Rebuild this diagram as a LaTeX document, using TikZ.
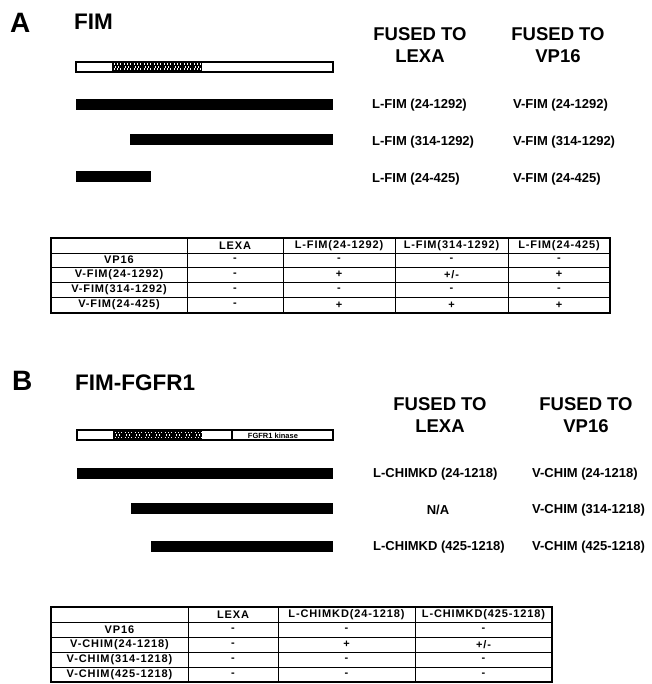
\documentclass[tikz,border=0pt]{standalone}
\usepackage{fontspec}
\setmainfont{Liberation Sans}
\newfontfamily\cellfont[LetterSpace=8]{Liberation Sans}

\newcommand\pmark{+/-}

\tikzset{
  panel/.style={anchor=base west,inner sep=0pt,font=\bfseries\fontsize{28}{30}\selectfont},
  ptitle/.style={anchor=base west,inner sep=0pt,font=\bfseries\fontsize{22.5}{26}\selectfont},
  fused/.style={align=center,inner sep=0pt,font=\bfseries\fontsize{18.5}{22}\selectfont},
  construct/.style={anchor=west,inner sep=0pt,font=\bfseries\fontsize{13}{15}\selectfont},
  cell/.style={inner sep=0pt,font=\cellfont\bfseries\fontsize{11}{12}\selectfont},
  protein/.style={draw=black,line width=1.4pt,fill=white},
  frame/.style={line width=1.3pt},
  rule/.style={line width=0.8pt}
}

% repeat region: black block with checkered white marks
\newcommand\repeats[3]{%
    \fill (#1,#3) rectangle (#2,#3+9);
    \foreach \k in {0,...,8}
        \foreach \dx/\dy in {1.5/1,4.5/1,3/3.5,6/3.5,1.5/6,4.5/6,7.5/1,7.5/6}
            \fill[white] ({#1+\k*10+\dx},{#3+\dy}) rectangle +(1.4,1.6);
}

\begin{document}
\begin{tikzpicture}[x=1pt,y=-1pt]
    \useasboundingbox (0,0) rectangle (651,684);

    % panel A: FIM
    \node[panel] (panA) at (10,33) {A};
    \node[ptitle] (titA) at (74,30) {FIM};
    \node[fused] (lexA) at (420,45.5) {FUSED TO\\LEXA};
    \node[fused] (vpA) at (558,45.5) {FUSED TO\\VP16};

    \draw[protein] (76,62) rectangle (333,72);
    \repeats{112}{202}{62.5}
    \fill (76,99) rectangle (333,110);
    \fill (130,134) rectangle (333,145);
    \fill (76,171) rectangle (151,182);

    \node[construct] (lA1) at (372,105) {L-FIM (24-1292)};
    \node[construct] (lA2) at (372,142) {L-FIM (314-1292)};
    \node[construct] (lA3) at (372,179) {L-FIM (24-425)};
    \node[construct] (vA1) at (513,105) {V-FIM (24-1292)};
    \node[construct] (vA2) at (513,142) {V-FIM (314-1292)};
    \node[construct] (vA3) at (513,179) {V-FIM (24-425)};

    % table A
    \draw[frame] (51,238) rectangle (610,313);
    \foreach \y in {253,267,282,297} \draw[rule] (51,\y) -- (610,\y);
    \foreach \x in {187,283,395,508} \draw[rule] (\x,238) -- (\x,313);
    \foreach \cx/\txt [count=\i] in {235/LEXA,339/L-FIM(24-1292),
        451.5/L-FIM(314-1292),559/L-FIM(24-425)}
        \node[cell] (hA\i) at (\cx,245.5) {\txt};
    \foreach \y/\name/\a/\b/\c/\d [count=\r] in {
        260/VP16/-/-/-/-,
        274.5/V-FIM(24-1292)/-/+/\pmark/+,
        289.5/V-FIM(314-1292)/-/-/-/-,
        305/V-FIM(24-425)/-/+/+/+}{
        \node[cell] (rA\r) at (119,\y) {\name};
        \node[cell] (rA\r c1) at (235,\y) {\a};
        \node[cell] (rA\r c2) at (339,\y) {\b};
        \node[cell] (rA\r c3) at (451.5,\y) {\c};
        \node[cell] (rA\r c4) at (559,\y) {\d};
    }

    % panel B: FIM-FGFR1
    \node[panel] (panB) at (12,390) {B};
    \node[ptitle] (titB) at (75,390) {FIM-FGFR1};
    \node[fused] (lexB) at (440,415) {FUSED TO\\LEXA};
    \node[fused] (vpB) at (586,415) {FUSED TO\\VP16};

    \draw[protein] (77,430) rectangle (333,440);
    \repeats{113}{202}{430.5}
    \draw[line width=1.2pt] (232,430) -- (232,440);
    \node[inner sep=0pt,font=\bfseries\fontsize{7.5}{8}\selectfont] (kin) at (273,435.5) {FGFR1 kinase};
    \fill (77,468) rectangle (333,479);
    \fill (131,503) rectangle (333,514);
    \fill (151,541) rectangle (333,552);

    \node[construct] (lB1) at (373,474) {L-CHIMKD (24-1218)};
    \node[construct,anchor=center] (lB2) at (438,510) {N/A};
    \node[construct] (lB3) at (373,547) {L-CHIMKD (425-1218)};
    \node[construct] (vB1) at (532,474) {V-CHIM (24-1218)};
    \node[construct] (vB2) at (532,510) {V-CHIM (314-1218)};
    \node[construct] (vB3) at (532,547) {V-CHIM (425-1218)};

    % table B
    \draw[frame] (51,607) rectangle (552,682);
    \foreach \y in {622,637,652,667} \draw[rule] (51,\y) -- (552,\y);
    \foreach \x in {188,278,415} \draw[rule] (\x,607) -- (\x,682);
    \foreach \cx/\txt [count=\i] in {233/LEXA,346.5/L-CHIMKD(24-1218),
        483.5/L-CHIMKD(425-1218)}
        \node[cell] (hB\i) at (\cx,614.5) {\txt};
    \foreach \y/\name/\a/\b/\c [count=\r] in {
        629.5/VP16/-/-/-,
        644.5/V-CHIM(24-1218)/-/+/\pmark,
        659.5/V-CHIM(314-1218)/-/-/-,
        674.5/V-CHIM(425-1218)/-/-/-}{
        \node[cell] (rB\r) at (119.5,\y) {\name};
        \node[cell] (rB\r c1) at (233,\y) {\a};
        \node[cell] (rB\r c2) at (346.5,\y) {\b};
        \node[cell] (rB\r c3) at (483.5,\y) {\c};
    }
\end{tikzpicture}
\end{document}
